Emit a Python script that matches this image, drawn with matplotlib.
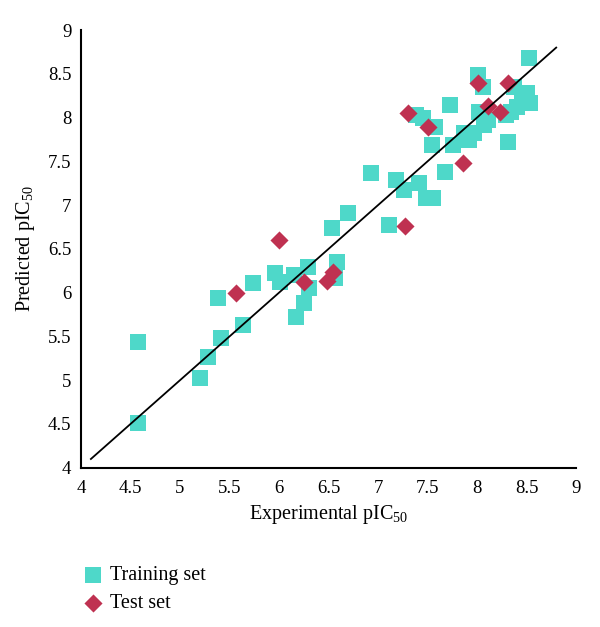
import matplotlib
matplotlib.use("Agg")
import matplotlib.pyplot as plt

plt.rcParams['font.family'] = ['Liberation Serif', 'DejaVu Serif']
plt.rcParams['mathtext.fontset'] = 'custom'
plt.rcParams['mathtext.rm'] = 'Liberation Serif'
plt.rcParams['mathtext.it'] = 'Liberation Serif:italic'

train_x = [8.53, 8.01, 8.06, 7.73, 8.37, 8.51, 8.54, 8.34, 8.29, 8.02, 8.07, 7.97,
           7.87, 8.11, 7.92, 8.31, 7.38, 7.45, 7.58, 7.55, 7.76, 7.68, 7.18, 7.26,
           7.41, 7.48, 7.56, 6.93, 6.70, 6.54, 7.11, 5.74, 5.96, 6.01, 6.15, 6.29,
           6.30, 6.25, 6.17, 6.59, 6.57, 5.38, 5.64, 5.41, 5.28, 5.20, 4.58, 4.58,
           8.45, 8.40]
train_y = [8.68, 8.49, 8.35, 8.14, 8.35, 8.28, 8.17, 8.06, 8.03, 8.06, 7.92, 7.82,
           7.82, 7.97, 7.74, 7.72, 8.03, 8.00, 7.89, 7.69, 7.69, 7.38, 7.29, 7.17,
           7.25, 7.08, 7.08, 7.37, 6.91, 6.74, 6.77, 6.11, 6.23, 6.12, 6.20, 6.29,
           6.05, 5.88, 5.72, 6.35, 6.17, 5.94, 5.63, 5.48, 5.27, 5.03, 5.44, 4.51,
           8.22, 8.12]

test_x = [8.01, 8.31, 8.11, 8.23, 7.30, 7.51, 7.86, 7.27, 6.00, 6.25, 6.48, 6.55, 5.57]
test_y = [8.39, 8.39, 8.13, 8.06, 8.05, 7.89, 7.48, 6.76, 6.60, 6.12, 6.13, 6.24, 6.00]

line_x = [4.1, 8.8]
line_y = [4.1, 8.8]

xticks = [4, 4.5, 5, 5.5, 6, 6.5, 7, 7.5, 8, 8.5, 9]
yticks = [4, 4.5, 5, 5.5, 6, 6.5, 7, 7.5, 8, 8.5, 9]

fig = plt.figure(figsize=(6.0, 6.27), dpi=100)
ax = fig.add_axes([0.135, 0.254, 0.825, 0.698])

teal = '#4ED8C9'
red = '#BF3151'
h1 = ax.scatter(train_x, train_y, marker='s', s=120, color=teal, linewidths=0, zorder=2,
                label='Training set')
h2 = ax.scatter(test_x, test_y, marker='D', s=85, color=red, linewidths=0, zorder=3,
                label='Test set')
ax.plot(line_x, line_y, color='black', linewidth=1.3, zorder=4)

ax.set_xlim(4, 9)
ax.set_ylim(4, 9)
ax.set_xticks(xticks)
ax.set_yticks(yticks)
ax.set_xticklabels([f'{t:g}' for t in xticks])
ax.set_yticklabels([f'{t:g}' for t in yticks])
ax.tick_params(axis='both', length=0, labelsize=13.5)
ax.tick_params(axis='x', pad=9)
ax.tick_params(axis='y', pad=7)
for s in ['top', 'right']:
    ax.spines[s].set_visible(False)
for s in ['left', 'bottom']:
    ax.spines[s].set_linewidth(1.5)
    ax.spines[s].set_color('black')

ax.set_xlabel(r'Experimental pIC$_{\mathrm{50}}$', fontsize=14.5, labelpad=4)
ax.set_ylabel(r'Predicted pIC$_{\mathrm{50}}$', fontsize=14.5, labelpad=8)

fig.legend(handles=[h1, h2], loc='upper left', bbox_to_anchor=(0.125, 0.11),
           frameon=False, fontsize=14.5, handletextpad=0.35, labelspacing=0.45,
           handlelength=1.0, borderaxespad=0)

fig.savefig('out.png', dpi=100)
